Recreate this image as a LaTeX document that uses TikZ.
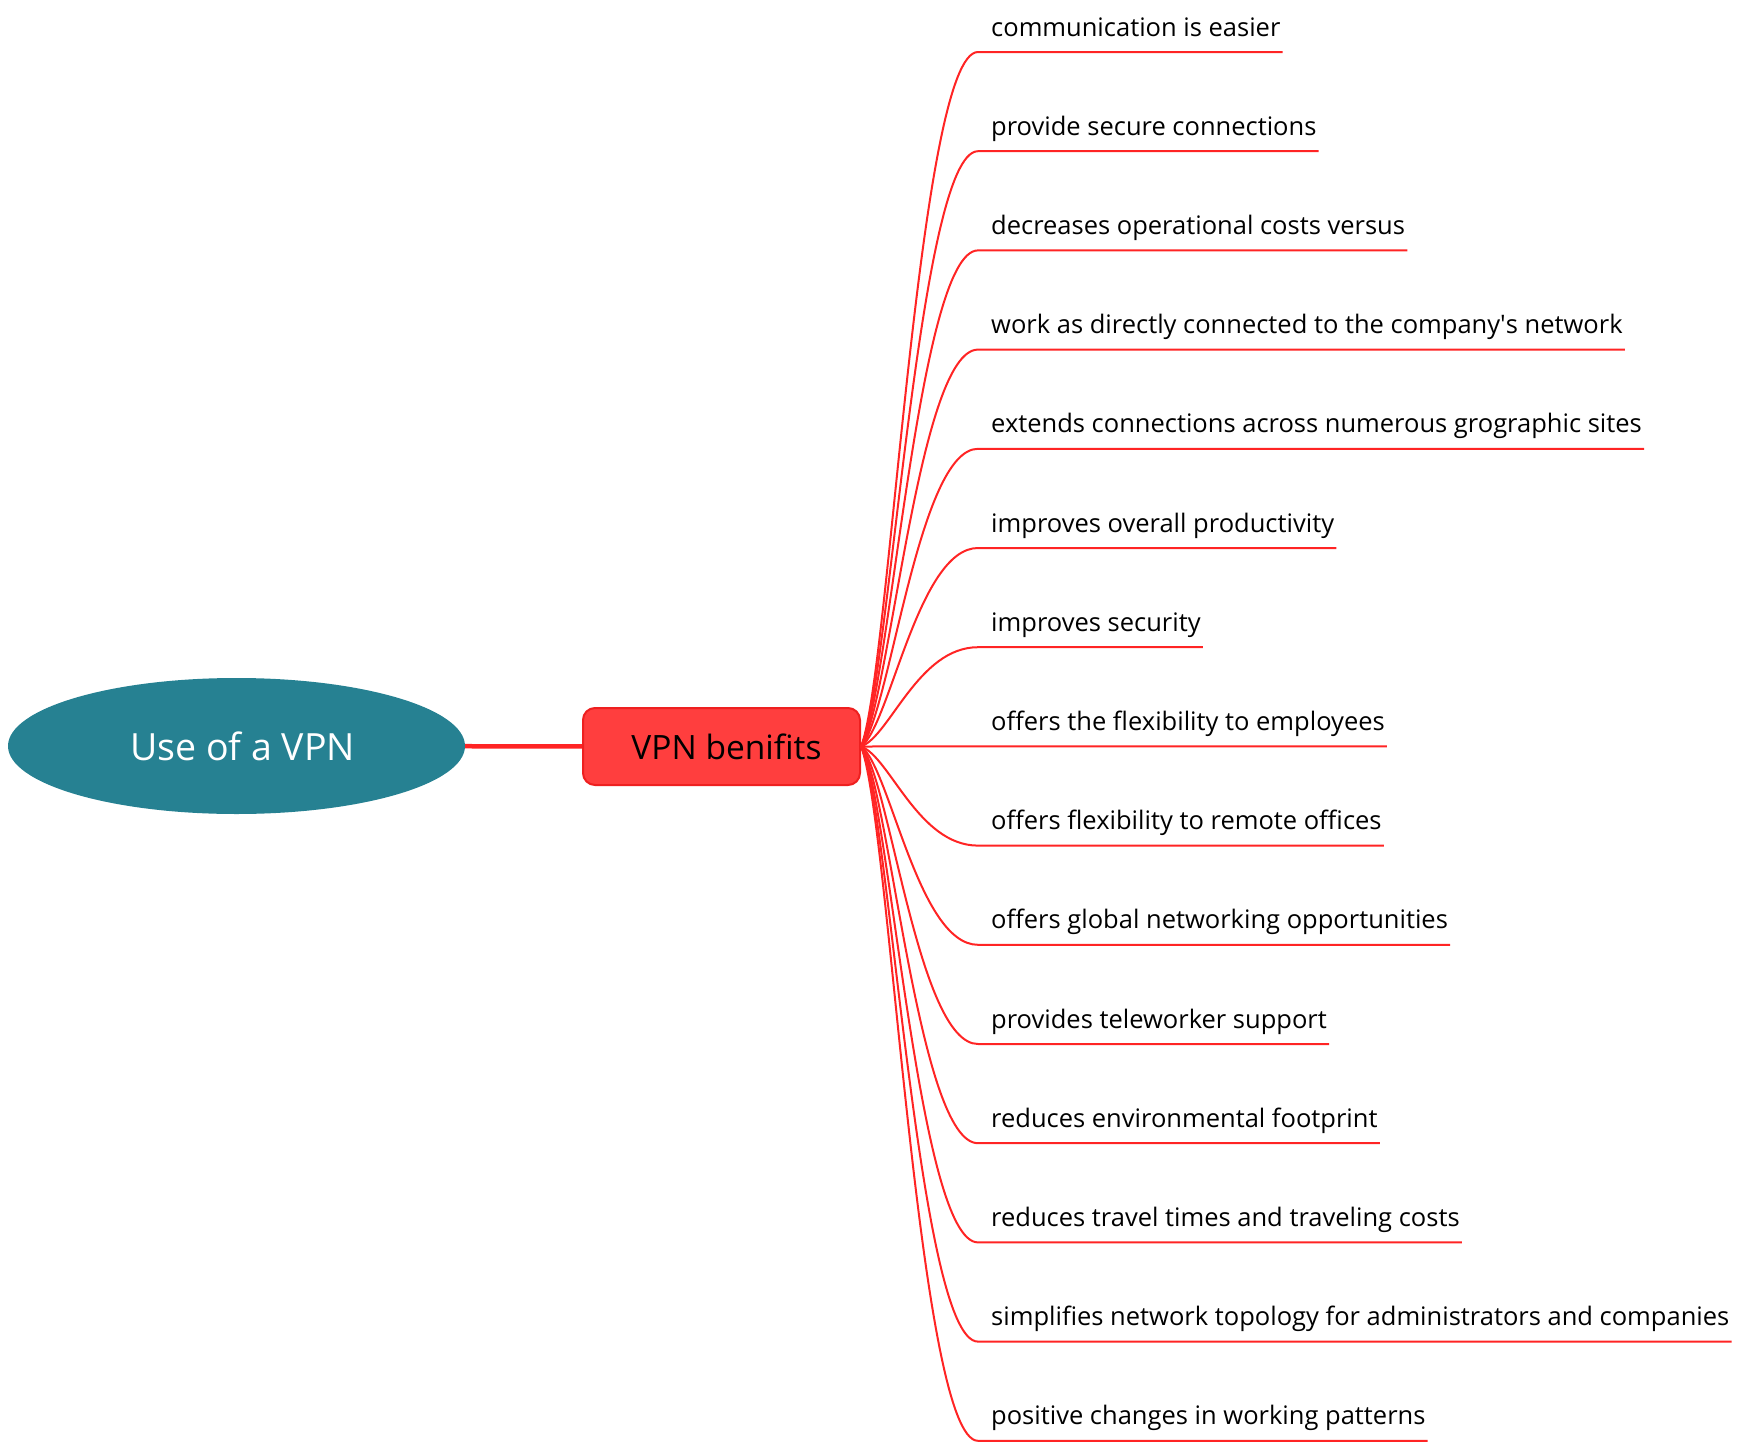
\documentclass[tikz,border=0pt]{standalone}
\usepackage{fontspec}
\setmainfont{Open Sans}
\usetikzlibrary{calc,shapes.geometric}
\definecolor{myteal}{RGB}{38,129,146}
\definecolor{myred}{RGB}{255,62,62}
\definecolor{mydarkred}{RGB}{238,32,32}
\definecolor{branchred}{RGB}{255,36,36}
\tikzstyle{root}=[ellipse,fill=myteal,text=white,minimum width=457pt,minimum height=136pt,inner sep=0pt,font=\fontsize{37.5}{44}\selectfont]
\tikzstyle{topic}=[rectangle,rounded corners=12pt,draw=mydarkred,line width=2pt,fill=myred,minimum width=277pt,minimum height=77pt,inner sep=0pt,font=\fontsize{33.5}{40}\selectfont]
\tikzstyle{leaf}=[anchor=base west,inner sep=0pt,font=\fontsize{25.5}{30}\selectfont]
\tikzstyle{main edge}=[draw,line width=4.5pt,branchred]
\tikzstyle{branch edge}=[draw,line width=2pt,branchred]

\begin{document}
\begin{tikzpicture}[x=1pt,y=-1pt]
    \useasboundingbox (0,0) rectangle (1749,1456);
    \node[root] (use) at (236.5,746) {\hspace*{12pt}Use of a VPN};
    \node[topic] (benefits) at (721.5,746.5) {\hspace*{10pt}VPN benifits};
    \path[main edge] (use) -- (benefits);

    \foreach \i/\txt in {0/communication is easier, 1/provide secure connections,
                         2/decreases operational costs versus,
                         3/work as directly connected to the company\textquotesingle s network,
                         4/extends connections across numerous grographic sites,
                         5/improves overall productivity, 6/improves security,
                         7/offers the flexibility to employees,
                         8/offers flexibility to remote offices,
                         9/offers global networking opportunities,
                         10/provides teleworker support,
                         11/reduces environmental footprint,
                         12/reduces travel times and traveling costs,
                         13/simplifies network topology for administrators and companies,
                         14/positive changes in working patterns}
    {
        \coordinate (u\i) at (978,52+99.2*\i);
        \node[leaf] (b\i) at (991,36+99.2*\i) {\txt};
        \path[branch edge] (benefits.east) .. controls ($(benefits.east)!.1!(u\i)+(17,0)$) and +(-60,0) .. (u\i)
            -- ($(u\i -| b\i.east)+(2,0)$);
    }
\end{tikzpicture}
\end{document}
